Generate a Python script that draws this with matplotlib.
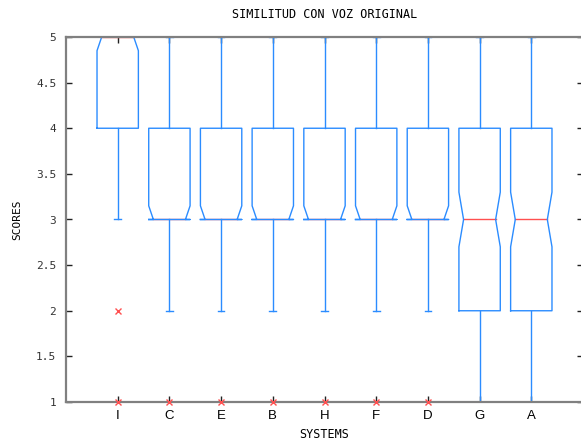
import matplotlib
matplotlib.use('Agg')
import matplotlib.pyplot as plt

# DATA
systems = ['I', 'C', 'E', 'B', 'H', 'F', 'D', 'G', 'A']
q1 = [4, 3, 3, 3, 3, 3, 3, 2, 2]
medians = [5, 3, 3, 3, 3, 3, 3, 3, 3]
q3 = [5, 4, 4, 4, 4, 4, 4, 4, 4]
whisker_lo = [3, 2, 2, 2, 2, 2, 2, 1, 1]
whisker_hi = [5, 5, 5, 5, 5, 5, 5, 5, 5]
notch_lo = [4.85, 2.85, 2.85, 2.85, 2.85, 2.85, 2.85, 2.7, 2.7]
notch_hi = [5.15, 3.15, 3.15, 3.15, 3.15, 3.15, 3.15, 3.3, 3.3]
outliers = [[1, 2], [1], [1], [1], [1], [1], [1], [], []]
yticks = [1, 1.5, 2, 2.5, 3, 3.5, 4, 4.5, 5]

box_color = '#2b8cff'
med_color = '#ff5050'
half_w = 0.4
indent = 0.09
cap_w = 0.065

fig = plt.figure(figsize=(5.81, 4.48), dpi=100)
ax = fig.add_axes([66 / 581, 46 / 448, 517 / 581, 365 / 448])

for i, name in enumerate(systems):
    x = i + 1
    l, r = x - half_w, x + half_w
    lo = max(q1[i], notch_lo[i])
    hi = min(q3[i], notch_hi[i])
    # notched box outline
    xs = [l, l, l + indent, l, l, r, r, r - indent, r, r, l]
    ys = [q1[i], lo, medians[i], hi, q3[i], q3[i], hi, medians[i], lo, q1[i], q1[i]]
    ax.plot(xs, ys, color=box_color, lw=1.0, zorder=2)
    # median
    ax.plot([l + indent, r - indent], [medians[i], medians[i]], color=med_color, lw=1.0, zorder=1.8)
    # whiskers + caps
    if whisker_hi[i] > q3[i]:
        ax.plot([x, x], [q3[i], whisker_hi[i]], color=box_color, lw=1.0)
        ax.plot([x - cap_w, x + cap_w], [whisker_hi[i]] * 2, color=box_color, lw=1.0, zorder=1.5)
    if whisker_lo[i] < q1[i]:
        ax.plot([x, x], [whisker_lo[i], q1[i]], color=box_color, lw=1.0)
        ax.plot([x - cap_w, x + cap_w], [whisker_lo[i]] * 2, color=box_color, lw=1.0, zorder=1.5)
    # outliers
    if outliers[i]:
        ax.plot([x] * len(outliers[i]), outliers[i], 'x', color=med_color,
                markersize=5, mew=1.0, clip_on=False, zorder=3)

ax.set_xlim(0, 10)
ax.set_ylim(1, 5)
ax.set_xticks(range(1, len(systems) + 1))
ax.set_xticklabels(systems, fontsize=9.5, family='Liberation Sans')
ax.set_yticks(yticks)
ax.set_yticklabels(['{:g}'.format(t) for t in yticks], fontsize=8,
                   family='DejaVu Sans Mono', color='#333333')

for side in ['left', 'top', 'bottom']:
    ax.spines[side].set_color('#808080')
    ax.spines[side].set_linewidth(1.6)
ax.spines['right'].set_visible(False)

ax.tick_params(axis='both', direction='in', length=4, width=1, color='#222222',
               top=True, right=True)
ax.tick_params(axis='x', pad=6)
ax.tick_params(axis='y', pad=7)

ax.set_title('SIMILITUD CON VOZ ORIGINAL', fontsize=8.5, family='DejaVu Sans Mono', pad=14)
ax.set_xlabel('SYSTEMS', fontsize=8.5, family='DejaVu Sans Mono', labelpad=4)
ax.set_ylabel('SCORES', fontsize=8, family='DejaVu Sans Mono', labelpad=10)

fig.savefig('out.png', dpi=100)
